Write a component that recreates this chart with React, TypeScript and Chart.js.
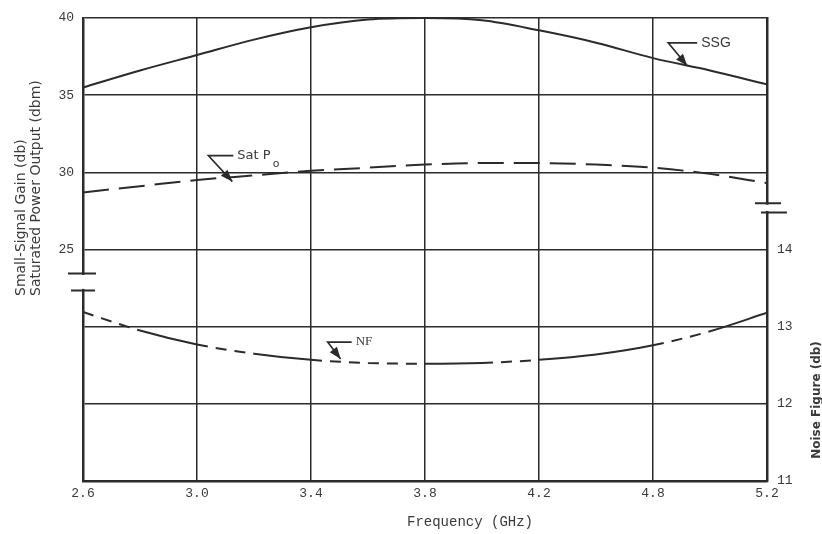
import React, { useEffect, useRef } from 'react';
import { Chart, registerables } from 'chart.js';

Chart.register(...registerables);

// ---- data ----
const xTickLabels = ['2.6', '3.0', '3.4', '3.8', '4.2', '4.8', '5.2'];
// sample positions along the frequency axis, in grid-interval units (0 = "2.6", 6 = "5.2")
const samplePositions = [0, 0.5, 1, 1.5, 2, 2.5, 3, 3.5, 4, 4.5, 5, 5.5, 6];
const ssgDb = [35.5, 36.6, 37.6, 38.6, 39.4, 39.9, 40.0, 39.85, 39.2, 38.4, 37.4, 36.6, 35.7];
const satPoDbm = [28.7, 29.1, 29.5, 29.8, 30.1, 30.3, 30.5, 30.6, 30.6, 30.5, 30.3, 29.9, 29.3];
const nfDb = [13.19, 12.95, 12.77, 12.65, 12.57, 12.53, 12.52, 12.53, 12.57, 12.64, 12.76, 12.94, 13.18];
const leftTickLabels = [40, 35, 30, 25];
const rightTickLabels = [14, 13, 12, 11];

// NF curve segments drawn solid (others dashed), as on the original plot
const nfSolidSegments = [1, 3, 6, 8, 9, 11];

const INK = '#2b2b2b';
const TEXT = '#3a3a3a';

function drawArrowLeader(
  ctx: CanvasRenderingContext2D,
  tx: number,
  ty: number,
  cdx: number,
  cdy: number,
  lineEndDx: number,
  label: string,
  labelFont: string,
  sub?: string
) {
  const cx = tx + cdx;
  const cy = ty + cdy;
  ctx.strokeStyle = INK;
  ctx.fillStyle = INK;
  ctx.lineWidth = 1.6;
  ctx.beginPath();
  ctx.moveTo(tx + lineEndDx, cy);
  ctx.lineTo(cx, cy);
  ctx.lineTo(tx, ty);
  ctx.stroke();
  // arrow head
  const ang = Math.atan2(ty - cy, tx - cx);
  const len = 12;
  const w = 4.5;
  const bx = tx - Math.cos(ang) * len;
  const by = ty - Math.sin(ang) * len;
  ctx.beginPath();
  ctx.moveTo(tx, ty);
  ctx.lineTo(bx - Math.sin(ang) * w, by + Math.cos(ang) * w);
  ctx.lineTo(bx + Math.sin(ang) * w, by - Math.cos(ang) * w);
  ctx.closePath();
  ctx.fill();
  // label
  ctx.fillStyle = TEXT;
  ctx.font = labelFont;
  ctx.textAlign = 'left';
  ctx.textBaseline = 'middle';
  const lx = tx + lineEndDx + 4;
  ctx.fillText(label, lx, cy);
  if (sub) {
    const wlab = ctx.measureText(label).width;
    ctx.font = '11px "DejaVu Sans"';
    ctx.fillText(sub, lx + wlab + 2, cy + 9);
  }
}

const decorPlugin = {
  id: 'decor',
  afterDraw(chart: any) {
    const { ctx, chartArea: a, scales } = chart;
    const xS = scales.x;
    const yL = scales.yL;
    const yR = scales.yR;
    ctx.save();

    // axis breaks
    ctx.strokeStyle = INK;
    ctx.lineWidth = 2;
    const l1 = yL.getPixelForValue(23.45);
    const l2 = yL.getPixelForValue(22.35);
    ctx.fillStyle = '#ffffff';
    ctx.fillRect(a.left - 3, l1 + 1.5, 6, l2 - l1 - 3);
    ctx.beginPath();
    ctx.moveTo(a.left - 15, l1);
    ctx.lineTo(a.left + 13, l1);
    ctx.moveTo(a.left - 12, l2);
    ctx.lineTo(a.left + 12, l2);
    ctx.stroke();

    const r1 = yR.getPixelForValue(14.6);
    const r2 = yR.getPixelForValue(14.48);
    ctx.fillStyle = '#ffffff';
    ctx.fillRect(a.right - 3, r1 + 1.5, 6, r2 - r1 - 3);
    ctx.beginPath();
    ctx.moveTo(a.right - 12, r1);
    ctx.lineTo(a.right + 14, r1);
    ctx.moveTo(a.right - 6, r2);
    ctx.lineTo(a.right + 20, r2);
    ctx.stroke();

    // curve labels with leaders
    drawArrowLeader(
      ctx,
      xS.getPixelForValue(5.3),
      yL.getPixelForValue(36.9),
      -19,
      -23,
      10,
      'SSG',
      '14px "Liberation Sans"'
    );
    drawArrowLeader(
      ctx,
      xS.getPixelForValue(1.31),
      yL.getPixelForValue(29.4),
      -24,
      -26,
      1,
      'Sat P',
      '13px "DejaVu Sans"',
      'o'
    );
    drawArrowLeader(
      ctx,
      xS.getPixelForValue(2.26),
      yR.getPixelForValue(12.58),
      -13,
      -17,
      11,
      'NF',
      '13px "Liberation Serif"'
    );

    // axis titles
    ctx.fillStyle = TEXT;
    ctx.font = '14px "DejaVu Sans"';
    ctx.textAlign = 'left';
    ctx.textBaseline = 'middle';
    ctx.save();
    ctx.translate(a.left - 62, a.top + 278);
    ctx.rotate(-Math.PI / 2);
    ctx.fillText('Small-Signal Gain (db)', 0, 0);
    ctx.restore();
    ctx.save();
    ctx.translate(a.left - 47, a.top + 278);
    ctx.rotate(-Math.PI / 2);
    ctx.fillText('Saturated Power Output (dbm)', 0, 0);
    ctx.restore();

    ctx.save();
    ctx.font = 'bold 12px "DejaVu Sans"';
    ctx.textAlign = 'center';
    ctx.translate(a.right + 50, a.top + 382);
    ctx.rotate(-Math.PI / 2);
    ctx.fillText('Noise Figure (db)', 0, 0);
    ctx.restore();

    ctx.font = '14px "Liberation Mono"';
    ctx.textAlign = 'center';
    ctx.fillText('Frequency (GHz)', a.left + 387, a.bottom + 41);

    ctx.restore();
  },
};

export default function App() {
  const canvasRef = useRef<HTMLCanvasElement | null>(null);

  useEffect(() => {
    if (!canvasRef.current) return;
    const toPoints = (vals: number[]) => samplePositions.map((x, i) => ({ x, y: vals[i] }));
    const chart = new Chart(canvasRef.current, {
      type: 'line',
      data: {
        datasets: [
          {
            label: 'SSG',
            data: toPoints(ssgDb),
            yAxisID: 'yL',
            borderColor: INK,
            borderWidth: 2,
            pointRadius: 0,
            cubicInterpolationMode: 'monotone',
            clip: 4,
          },
          {
            label: 'Sat Po',
            data: toPoints(satPoDbm),
            yAxisID: 'yL',
            borderColor: INK,
            borderWidth: 2,
            borderDash: [26, 10],
            pointRadius: 0,
            cubicInterpolationMode: 'monotone',
          },
          {
            label: 'NF',
            data: toPoints(nfDb),
            yAxisID: 'yR',
            borderColor: INK,
            borderWidth: 2,
            borderDash: [11, 8],
            pointRadius: 0,
            cubicInterpolationMode: 'monotone',
            segment: {
              borderDash: (c: any) => (nfSolidSegments.includes(c.p0DataIndex) ? [] : [11, 8]),
            },
          },
        ] as any,
      },
      options: {
        animation: false,
        responsive: false,
        layout: { padding: { top: 18, left: 0, right: 0, bottom: 0 } },
        plugins: {
          legend: { display: false },
          tooltip: { enabled: false },
        },
        scales: {
          x: {
            type: 'linear',
            min: 0,
            max: 6,
            ticks: {
              stepSize: 1,
              padding: 5,
              color: TEXT,
              font: { family: '"Liberation Mono"', size: 13 },
              callback: (v: any) => xTickLabels[Math.round(Number(v))] ?? '',
              maxRotation: 0,
            },
            grid: { color: INK, lineWidth: 1.5, drawTicks: false },
            border: { color: INK, width: 2.5 },
            afterFit: (s: any) => {
              s.height = 53;
            },
          },
          yL: {
            type: 'linear',
            position: 'left',
            min: 10,
            max: 40,
            ticks: {
              stepSize: 5,
              padding: 9,
              color: TEXT,
              font: { family: '"Liberation Mono"', size: 13 },
              callback: (v: any) => (leftTickLabels.includes(Number(v)) ? String(v) : ''),
            },
            grid: { color: INK, lineWidth: 1.5, drawTicks: false },
            border: { color: INK, width: 2.5 },
            afterFit: (s: any) => {
              s.width = 83;
            },
          },
          yR: {
            type: 'linear',
            position: 'right',
            min: 11,
            max: 17,
            ticks: {
              stepSize: 1,
              padding: 10,
              color: TEXT,
              font: { family: '"Liberation Mono"', size: 13 },
              callback: (v: any) => (rightTickLabels.includes(Number(v)) ? String(v) : ''),
            },
            grid: { drawOnChartArea: false, drawTicks: false },
            border: { color: INK, width: 2.5 },
            afterFit: (s: any) => {
              s.width = 55;
            },
          },
        },
      },
      plugins: [decorPlugin],
    });
    return () => chart.destroy();
  }, []);

  return (
    <div style={{ position: 'fixed', left: 0, top: 0, width: 822, height: 534, background: '#fff' }}>
      <canvas ref={canvasRef} width={822} height={534} />
    </div>
  );
}
